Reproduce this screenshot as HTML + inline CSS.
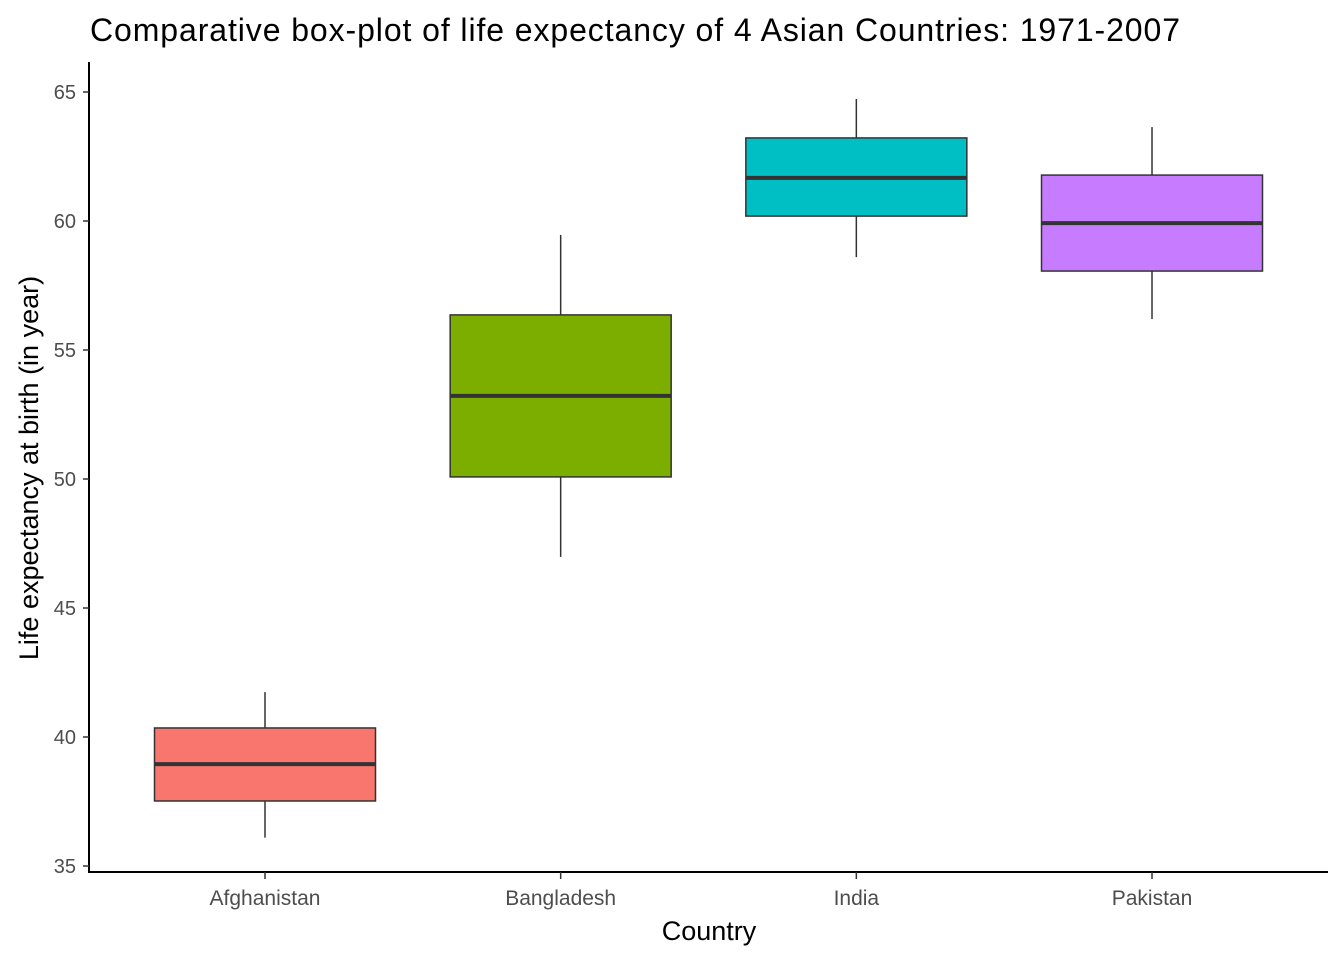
<!DOCTYPE html>
<html><head><meta charset="utf-8"><style>
html,body{margin:0;padding:0;background:#fff;}
svg text{font-family:"Liberation Sans",Arial,sans-serif;}
</style></head><body>
<svg id="chart" width="1344" height="960" xmlns="http://www.w3.org/2000/svg">
<rect width="1344" height="960" fill="#fff"/>
<text x="90" y="41" font-size="32" fill="#000" textLength="1090">Comparative box-plot of life expectancy of 4 Asian Countries: 1971-2007</text>
<g id="marks"></g>
<g id="axes"></g>
<text x="709" y="940" font-size="27" text-anchor="middle" fill="#000">Country</text>
<text transform="translate(38,468) rotate(-90)" font-size="27" text-anchor="middle" fill="#000">Life expectancy at birth (in year)</text>
</svg>
<script>
const categories = ["Afghanistan","Bangladesh","India","Pakistan"];
const whiskerLow = [36.1, 46.98, 58.6, 56.2];
const q1 = [37.52, 50.08, 60.19, 58.06];
const medians = [38.95, 53.22, 61.67, 59.92];
const q3 = [40.35, 56.36, 63.22, 61.78];
const whiskerHigh = [41.74, 59.46, 64.73, 63.64];
const colors = ["#F8766D","#7CAE00","#00BFC4","#C77CFF"];
const yTicks = [35,40,45,50,55,60,65];

const NS="http://www.w3.org/2000/svg";
const y = v => 92 + (65 - v) * (774/30);
const x = i => 265 + i * 295.67;
const halfW = 110.5;
function mk(tag, attrs, parent){const e=document.createElementNS(NS,tag);for(const k in attrs)e.setAttribute(k,attrs[k]);parent.appendChild(e);return e;}
const marks=document.getElementById('marks'), axes=document.getElementById('axes');

categories.forEach((c,i)=>{
  const g=mk('g',{},marks);
  
  
  const w1=mk('line',{x1:x(i),x2:x(i),y1:y(whiskerHigh[i]),y2:y(q3[i]),stroke:'#333','stroke-width':1.5},g);
  
  
  const w2=mk('line',{x1:x(i),x2:x(i),y1:y(q1[i]),y2:y(whiskerLow[i]),stroke:'#333','stroke-width':1.5},g);
  
  
  const r=mk('rect',{x:x(i)-halfW,y:y(q3[i]),width:2*halfW,height:y(q1[i])-y(q3[i]),fill:colors[i],stroke:'#333','stroke-width':1.5},g);
  
  
  const m=mk('line',{x1:x(i)-halfW,x2:x(i)+halfW,y1:y(medians[i]),y2:y(medians[i]),stroke:'#333','stroke-width':4},g);
  
  
});

const ya=mk('line',{x1:89,x2:89,y1:62,y2:873,stroke:'#000','stroke-width':2},axes);


const xa=mk('line',{x1:88,x2:1328,y1:872,y2:872,stroke:'#000','stroke-width':2},axes);


yTicks.forEach(t=>{
  const tk=mk('line',{x1:83,x2:89,y1:y(t),y2:y(t),stroke:'#333','stroke-width':1.5},axes);
  
  
  const tl=mk('text',{x:76,y:y(t)+7,'font-size':20,'text-anchor':'end',fill:'#4d4d4d'},axes);
  tl.textContent=t;
  
  
});
categories.forEach((c,i)=>{
  const tk=mk('line',{x1:x(i),x2:x(i),y1:872,y2:879,stroke:'#333','stroke-width':1.5},axes);
  
  
  const tl=mk('text',{x:x(i),y:905,'font-size':21,'text-anchor':'middle',fill:'#4d4d4d'},axes);
  tl.textContent=c;
  
  
});
</script>
</body></html>
